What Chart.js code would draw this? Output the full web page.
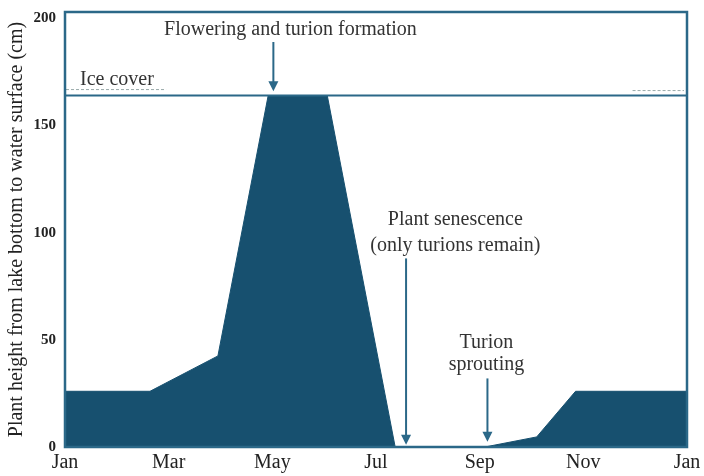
<!DOCTYPE html>
<html>
<head>
<meta charset="utf-8">
<script src="https://cdn.jsdelivr.net/npm/chart.js@4"></script>
<style>
html,body{margin:0;padding:0;background:#fff;}
#wrap{width:704px;height:476px;}
</style>
</head>
<body>
<div id="wrap"><canvas id="c" width="704" height="476"></canvas></div>
<script>
// Data (x in months since Jan 1, y in cm)
const monthLabels = ['Jan','Feb','Mar','Apr','May','Jun','Jul','Aug','Sep','Oct','Nov','Dec','Jan'];
const monthPos =   [0, 1.64, 2.95, 3.92, 5.06, 6.37, 8.1, 9.1, 9.85, 12];
const heightCm =   [26, 26, 42.5, 164, 164, 0, 0, 4.7, 26, 26];
const yTicks = [0, 50, 100, 150, 200];
const iceCover = 164;

const annotations = [
  {lines:['Flowering and turion formation'], x:4.35, y:[194.5], arrowX:4.02, from:189, to:166},
  {lines:['Plant senescence','(only turions remain)'], x:7.53, y:[106,94], arrowX:6.58, from:88, to:1},
  {lines:['Turion','sprouting'], x:8.13, y:[48.5,38.5], arrowX:8.15, from:32, to:2.5}
];

const teal = '#17506f';
const lineTeal = '#2b6888';

const points = monthPos.map((m,i)=>({x:m, y:heightCm[i]}));

const decor = {
  id:'decor',
  afterDatasetsDraw(chart){
    const {ctx, chartArea:a, scales:{x,y}} = chart;
    ctx.save();
    // ice cover line
    const iy = y.getPixelForValue(iceCover);
    ctx.strokeStyle = lineTeal; ctx.lineWidth = 2;
    ctx.beginPath(); ctx.moveTo(a.left, iy); ctx.lineTo(a.right, iy); ctx.stroke();
    // faint dashed lines
    ctx.strokeStyle = '#9aa'; ctx.lineWidth = 1; ctx.setLineDash([3,2]);
    ctx.beginPath(); ctx.moveTo(a.left+1, iy-6); ctx.lineTo(x.getPixelForValue(1.95), iy-6); ctx.stroke();
    ctx.beginPath(); ctx.moveTo(x.getPixelForValue(10.95), iy-5); ctx.lineTo(a.right-3, iy-5); ctx.stroke();
    ctx.setLineDash([]);
    ctx.font = '20px "Liberation Serif"';
    ctx.fillStyle = '#333'; ctx.textBaseline = 'middle'; ctx.textAlign='left';
    ctx.fillText('Ice cover', x.getPixelForValue(0.29), y.getPixelForValue(171.5));
    // annotations
    ctx.textAlign = 'center';
    annotations.forEach(an=>{
      an.lines.forEach((t,i)=>ctx.fillText(t, x.getPixelForValue(an.x), y.getPixelForValue(an.y[i])));
      const ax = x.getPixelForValue(an.arrowX);
      const y1 = y.getPixelForValue(an.from), y2 = y.getPixelForValue(an.to);
      ctx.strokeStyle = lineTeal; ctx.fillStyle = lineTeal; ctx.lineWidth = 2;
      ctx.beginPath(); ctx.moveTo(ax, y1); ctx.lineTo(ax, y2-6); ctx.stroke();
      ctx.beginPath(); ctx.moveTo(ax-5, y2-10); ctx.lineTo(ax+5, y2-10); ctx.lineTo(ax, y2); ctx.closePath(); ctx.fill();
      ctx.fillStyle = '#333';
    });
    // frame
    ctx.strokeStyle = lineTeal; ctx.lineWidth = 2.5;
    ctx.strokeRect(a.left, a.top, a.right-a.left, a.bottom-a.top);
    ctx.restore();
  }
};

new Chart(document.getElementById('c'), {
  type:'line',
  data:{datasets:[{data:points, fill:'origin', backgroundColor:teal, borderColor:teal, borderWidth:1, pointRadius:0, tension:0}]},
  options:{
    responsive:false, animation:false,
    layout:{padding:{top:12, right:17, left:0, bottom:0}},
    plugins:{legend:{display:false}, tooltip:{enabled:false}},
    scales:{
      x:{type:'linear', min:0, max:12,
        afterBuildTicks(s){ s.ticks = [0,2,4,6,8,10,12].map(v=>({value:v})); },
        afterFit(s){ s.height = 29; s.paddingLeft = 0; s.paddingRight = 0; },
        grid:{display:false, drawTicks:false},
        border:{display:false},
        ticks:{padding:4, color:'#222', maxRotation:0, autoSkip:false, font:{family:'Liberation Serif', size:20},
          callback:(v)=>monthLabels[v]}},
      y:{type:'linear', min:0, max:203,
        afterBuildTicks(s){ s.ticks = yTicks.map(v=>({value:v})); },
        afterFit(s){ s.width = 65; s.paddingTop = 0; s.paddingBottom = 0; },
        grid:{display:false, drawTicks:false},
        border:{display:false},
        title:{display:true, text:'Plant height from lake bottom to water surface (cm)', color:'#222', font:{family:'Liberation Serif', size:20}, padding:{top:5,bottom:0}},
        ticks:{padding:9, color:'#222', font:{family:'Liberation Serif', size:15, weight:'bold'}}}
    }
  },
  plugins:[decor]
});
</script>
</body>
</html>
